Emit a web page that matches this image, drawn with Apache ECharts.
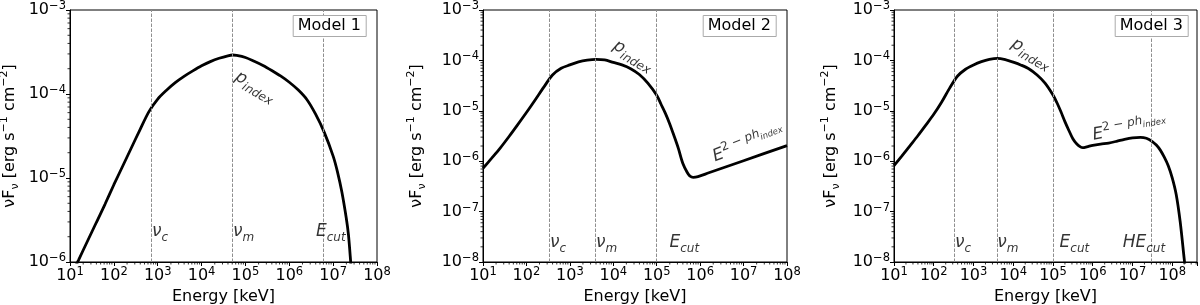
<!DOCTYPE html>
<html><head><meta charset="utf-8">
<script src="https://cdn.jsdelivr.net/npm/echarts@6/dist/echarts.min.js"></script>
<style>html,body{margin:0;padding:0;background:#fff}#c{width:1200px;height:305px}</style>
</head><body><div id="c"></div>
<script>
const FONT = 'DejaVu Sans';

// ---- Model 1 ----
const m1Energy = [10, 15.85, 25.12, 39.81, 63.1, 100, 158.5, 251.2, 398.1, 631, 1000, 1585, 2512, 3981, 6310, 1e4, 15850, 25120, 39810, 51300, 63100, 1e5, 158500, 251200, 398100, 631000, 1e6, 1.585e6, 2.512e6, 3.981e6, 6.31e6, 1e7, 1.259e7, 1.585e7, 1.995e7, 2.239e7, 2.512e7, 2.818e7];
const m1Flux   = [6.46e-7, 1.07e-6, 1.778e-6, 2.951e-6, 4.898e-6, 8.318e-6, 1.38e-5, 2.291e-5, 3.802e-5, 6.166e-5, 8.71e-5, 1.109e-4, 1.365e-4, 1.622e-4, 1.884e-4, 2.163e-4, 2.427e-4, 2.661e-4, 2.851e-4, 2.911e-4, 2.884e-4, 2.723e-4, 2.455e-4, 2.188e-4, 1.905e-4, 1.641e-4, 1.38e-4, 1.122e-4, 8.61e-5, 5.754e-5, 3.467e-5, 1.82e-5, 1.175e-5, 6.76e-6, 3.311e-6, 2.089e-6, 1.0e-6, 4.47e-7];
const m1Lines  = [730, 51300, 5.97e6];

// ---- Model 2 ----
const m2Energy = [10, 15.85, 25.12, 39.81, 63.1, 100, 158.5, 251.2, 398.1, 631, 1000, 1585, 2512, 3981, 6310, 1e4, 15850, 25120, 39810, 63100, 1e5, 125900, 158500, 199500, 251200, 316200, 398100, 501200, 575400, 691800, 891300, 1.585e6, 1e7, 1e8];
const m2Flux   = [7.24e-7, 1.148e-6, 1.841e-6, 3.09e-6, 5.31e-6, 9.23e-6, 1.641e-5, 2.951e-5, 5.13e-5, 6.97e-5, 8.13e-5, 9.33e-5, 1.012e-4, 1.05e-4, 1.023e-4, 9.12e-5, 8.13e-5, 6.84e-5, 5.25e-5, 3.51e-5, 2.042e-5, 1.349e-5, 8.91e-6, 5.5e-6, 3.162e-6, 1.778e-6, 9.12e-7, 6.03e-7, 5.13e-7, 4.79e-7, 4.95e-7, 5.89e-7, 1.023e-6, 2.042e-6];
const m2Lines  = [335, 3900, 1e5];

// ---- Model 3 ----
const m3Energy = [10, 15.85, 25.12, 39.81, 63.1, 100, 158.5, 251.2, 398.1, 631, 1000, 1585, 2512, 3981, 6310, 1e4, 15850, 25120, 39810, 63100, 1e5, 125900, 158500, 199500, 251200, 316200, 398100, 501200, 562300, 707900, 1e6, 1.585e6, 2.512e6, 3.981e6, 6.31e6, 1e7, 1.585e7, 2.239e7, 3.162e7, 3.981e7, 5.012e7, 6.31e7, 7.943e7, 1e8, 1.259e8, 1.585e8, 1.995e8, 2.239e8];
const m3Flux   = [8.13e-7, 1.274e-6, 2.018e-6, 3.199e-6, 5.19e-6, 8.51e-6, 1.496e-5, 2.818e-5, 4.9e-5, 6.68e-5, 8.13e-5, 9.44e-5, 1.047e-4, 1.099e-4, 1.035e-4, 9.23e-5, 8.04e-5, 6.76e-5, 5.13e-5, 3.548e-5, 2.065e-5, 1.445e-5, 9.55e-6, 6.1e-6, 4.07e-6, 2.786e-6, 2.188e-6, 1.905e-6, 1.862e-6, 1.928e-6, 2.065e-6, 2.188e-6, 2.291e-6, 2.483e-6, 2.723e-6, 2.917e-6, 2.979e-6, 2.851e-6, 2.455e-6, 2.089e-6, 1.66e-6, 1.202e-6, 8.13e-7, 4.68e-7, 2.188e-7, 6.31e-8, 1.175e-8, 5.01e-9];
const m3Lines  = [335, 3900, 1e5, 3e7];

// axis ranges
const xRanges = [[10, 1e8], [10, 1e8], [10, 4.2e8]];
const yRanges = [[1e-6, 1e-3], [1e-8, 1e-3], [1e-8, 1e-3]];
const modelNames = ['Model 1', 'Model 2', 'Model 3'];
const minorSteps = [2, 3, 4, 5, 6, 7, 8, 9];

// annotation texts [energy, flux, rich text, rotation]
const NU_C = '{m|ν}{s|c}', NU_M = '{m|ν}{s|m}', ECUT = '{m|E}{s|cut}', HECUT = '{m|HE}{s|cut}',
      PIDX = '{m|p}{s|index}', E2PH = '{m|E}{u|2 − }{ui|ph}{us|index}';
const m1Notes = [[760, 2.27e-6, NU_C, 0], [53400, 2.27e-6, NU_M, 0], [4.17e6, 2.27e-6, ECUT, 0], [64300, 1.64e-4, PIDX, -30]];
const m2Notes = [[358, 2.38e-8, NU_C, 0], [4100, 2.38e-8, NU_M, 0], [2.02e5, 2.38e-8, ECUT, 0], [10940, 2.02e-4, PIDX, -30], [2.08e6, 1.16e-6, E2PH, 21]];
const m3Notes = [[354, 2.38e-8, NU_C, 0], [4050, 2.38e-8, NU_M, 0], [1.51e5, 2.38e-8, ECUT, 0], [5.85e6, 2.38e-8, HECUT, 0], [9930, 2.21e-4, PIDX, -30], [1.03e6, 3.16e-6, E2PH, 10]];

const grids = [
  {left: 70, top: 10, width: 307, height: 252},
  {left: 483, top: 10, width: 304, height: 252},
  {left: 894, top: 10, width: 303, height: 252}
];
const yNameGaps = [49, 55, 52];
const titleRights = [834, 424, 12];

function expLabel(v) {
  const e = Math.log10(v);
  const r = Math.round(e);
  if (Math.abs(e - r) > 1e-6) return '';
  return '{b|10}{s|' + (r < 0 ? '\u2212' + (-r) : r) + '}';
}
const tickRich = {
  b: {fontFamily: FONT, fontSize: 16, color: '#000', lineHeight: 20},
  s: {fontFamily: FONT, fontSize: 11.5, color: '#000', verticalAlign: 'top', lineHeight: 12}
};
const noteRich = {
  m: {fontFamily: FONT, fontSize: 17, fontStyle: 'italic', color: '#000', lineHeight: 24},
  s: {fontFamily: FONT, fontSize: 12, fontStyle: 'italic', color: '#000', verticalAlign: 'bottom', lineHeight: 12},
  u: {fontFamily: FONT, fontSize: 12, color: '#000', verticalAlign: 'top', lineHeight: 12},
  ui: {fontFamily: FONT, fontSize: 12, fontStyle: 'italic', color: '#000', verticalAlign: 'top', lineHeight: 12},
  us: {fontFamily: FONT, fontSize: 8.5, fontStyle: 'italic', color: '#000', verticalAlign: 'top', padding: [6, 0, 0, 0]}
};

function axisCommon() {
  return {
    type: 'log', logBase: 10, interval: 1,
    axisLine: {show: true, lineStyle: {color: '#000', width: 1}},
    axisTick: {show: true, length: 4, lineStyle: {color: '#000', width: 1}},
    minorTick: {show: false},
    splitLine: {show: false},
    minorSplitLine: {show: false},
    axisLabel: {formatter: expLabel, rich: tickRich, color: '#000', showMinLabel: true, showMaxLabel: true}
  };
}

// minor tick positions (2..9 x 10^n) inside an axis range
function minorTicksIn(range) {
  const out = [];
  const lo = Math.floor(Math.log10(range[0])), hi = Math.ceil(Math.log10(range[1]));
  for (let n = lo; n < hi; n++) {
    minorSteps.forEach(k => {
      const v = k * Math.pow(10, n);
      if (v > range[0] * 1.0001 && v < range[1] * 0.9999) out.push(v);
    });
  }
  return out;
}

const energies = [m1Energy, m2Energy, m3Energy];
const fluxes = [m1Flux, m2Flux, m3Flux];
const lines = [m1Lines, m2Lines, m3Lines];
const notes = [m1Notes, m2Notes, m3Notes];

const option = {
  animation: false,
  backgroundColor: '#fff',
  textStyle: {fontFamily: FONT},
  title: modelNames.map((t, i) => ({
    text: t, right: titleRights[i], top: 15,
    padding: [3, 5, 3, 5], borderColor: '#aaaaaa', borderWidth: 1, backgroundColor: '#fff',
    textStyle: {fontFamily: FONT, fontSize: 16, fontWeight: 'normal', color: '#000', lineHeight: 16}
  })),
  grid: grids.map(g => Object.assign({show: true, borderColor: '#000', borderWidth: 1, outerBoundsMode: 'none', containLabel: false}, g)),
  xAxis: xRanges.map((r, i) => Object.assign(axisCommon(), {
    gridIndex: i, min: r[0], max: r[1],
    name: 'Energy [keV]', nameLocation: 'middle', nameGap: 25,
    nameTextStyle: {fontFamily: FONT, fontSize: 16, color: '#000'},
    axisLabel: Object.assign(axisCommon().axisLabel, {margin: 4})
  })),
  yAxis: yRanges.map((r, i) => Object.assign(axisCommon(), {
    gridIndex: i, min: r[0], max: r[1],
    name: '{a|νF}{b|ν}{a| [erg s}{c|\u22121}{a| cm}{c|\u22122}{a|]}',
    nameLocation: 'middle', nameGap: yNameGaps[i], nameRotate: 90,
    nameTextStyle: {rich: {
      a: {fontFamily: FONT, fontSize: 16, color: '#000', lineHeight: 22},
      b: {fontFamily: FONT, fontSize: 11, color: '#000', verticalAlign: 'bottom', lineHeight: 11},
      c: {fontFamily: FONT, fontSize: 11, color: '#000', verticalAlign: 'top', lineHeight: 11}
    }},
    axisLabel: Object.assign(axisCommon().axisLabel, {margin: 4})
  })),
  series: []
};

for (let i = 0; i < 3; i++) {
  option.series.push({
    type: 'line', xAxisIndex: i, yAxisIndex: i,
    data: energies[i].map((e, k) => [e, fluxes[i][k]]),
    showSymbol: false, symbol: 'none', smooth: 0.3, clip: true,
    lineStyle: {color: '#000', width: 2.8}, z: 3,
    markLine: {
      silent: true, symbol: ['none', 'none'], animation: false,
      label: {show: false},
      lineStyle: {type: [3.5, 1.5], color: '#8f8f8f', width: 1},
      data: lines[i].map(v => ({xAxis: v}))
    }
  });
  option.series.push({
    type: 'scatter', xAxisIndex: i, yAxisIndex: i, silent: true, z: 5,
    symbolSize: 1, itemStyle: {color: 'rgba(0,0,0,0)'},
    label: {show: true, position: [0, 0], align: 'left', verticalAlign: 'middle', rich: noteRich},
    data: notes[i].map(n => ({value: [n[0], n[1]], label: {formatter: n[2], rotate: n[3]}}))
  });
  // minor ticks on both axes (flag 0 = x axis, 1 = y axis)
  const xr = xRanges[i], yr = yRanges[i];
  const minorData = minorTicksIn(xr).map(v => [v, yr[0], 0]).concat(minorTicksIn(yr).map(v => [xr[0], v, 1]));
  option.series.push({
    type: 'custom', xAxisIndex: i, yAxisIndex: i, silent: true, clip: false, z: 6,
    data: minorData,
    renderItem: function (params, api) {
      const p = api.coord([api.value(0), api.value(1)]);
      const isY = api.value(2) === 1;
      const len = 2.5;
      return {
        type: 'line',
        shape: isY ? {x1: p[0] - len, y1: p[1], x2: p[0], y2: p[1]} : {x1: p[0], y1: p[1], x2: p[0], y2: p[1] + len},
        style: {stroke: '#000', lineWidth: 0.8}
      };
    }
  });
}

const chart = echarts.init(document.getElementById('c'), null, {renderer: 'canvas'});
chart.setOption(option);
</script>
</body></html>
